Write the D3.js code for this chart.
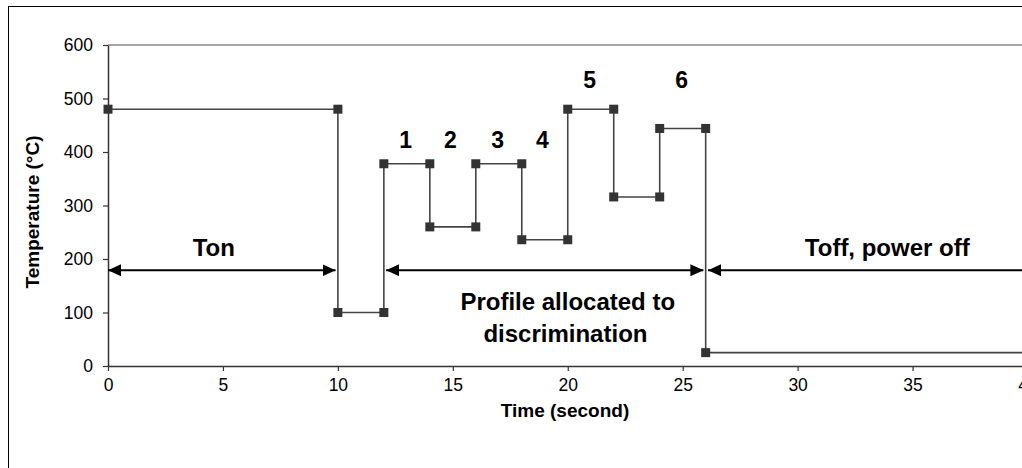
<!DOCTYPE html>
<html>
<head>
<meta charset="utf-8">
<script src="https://cdn.jsdelivr.net/npm/d3@7"></script>
<style>
  body { margin: 0; background: #fff; }
  text { font-family: "Liberation Sans", Arial, sans-serif; }
</style>
</head>
<body>
<div id="chart"></div>
<script>
// step profile
var times = [0, 10, 10, 12, 12, 14, 14, 16, 16, 18, 18, 20, 20, 22, 22, 24, 24, 26, 26, 40];
var temps = [480, 480, 100, 100, 378, 378, 260, 260, 378, 378, 236, 236, 480, 480, 316, 316, 444, 444, 25, 25];

var xTicks = [0, 5, 10, 15, 20, 25, 30, 35, 40];
var yTicks = [0, 100, 200, 300, 400, 500, 600];

// phase arrows: [from, to, temperature]
var arrows = [[0, 9.9, 179], [12.1, 25.9, 179], [26.1, 42, 179]];

// step numbers above the profile
var stepLabels = ["1", "2", "3", "4", "5", "6"];
var stepX = [12.95, 14.9, 16.95, 18.9, 20.95, 24.95];
var stepY = [407, 407, 407, 407, 520, 520];

var W = 1022, H = 468;
var svg = d3.select("#chart").append("svg").attr("width", W).attr("height", H);

var x = d3.scaleLinear().domain([0, 40]).range([108, 1027.5]);
var y = d3.scaleLinear().domain([0, 600]).range([366, 45]);

// outer frame (runs off the right and bottom)
svg.append("rect").attr("x", 8.5).attr("y", 6.5).attr("width", 1100).attr("height", 600)
  .attr("fill", "none").attr("stroke", "#000").attr("stroke-width", 1);

// plot area top edge
svg.append("line").attr("x1", x(0)).attr("x2", W).attr("y1", y(600)).attr("y2", y(600))
  .attr("stroke", "#888").attr("stroke-width", 1.5);

var xAxis = svg.append("g").attr("transform", "translate(0," + y(0) + ")")
  .call(d3.axisBottom(x).tickValues(xTicks).tickSize(5).tickSizeOuter(0).tickPadding(8));
var yAxis = svg.append("g").attr("transform", "translate(" + x(0) + ",0)")
  .call(d3.axisLeft(y).tickValues(yTicks).tickSize(5).tickSizeOuter(0).tickPadding(10));
[xAxis, yAxis].forEach(function (a) {
  a.select(".domain").attr("stroke", "#333").attr("stroke-width", 1.5);
  a.selectAll(".tick line").attr("stroke", "#333").attr("stroke-width", 1.2);
  a.selectAll(".tick text").attr("font-size", 17.5).attr("fill", "#000")
    .style("font-family", "'Liberation Sans', Arial, sans-serif");
});

svg.append("text").attr("x", 565).attr("y", 417).attr("text-anchor", "middle")
  .attr("font-size", 19).attr("font-weight", "bold").text("Time (second)");
svg.append("text").attr("transform", "translate(39,212) rotate(-90)").attr("text-anchor", "middle")
  .attr("font-size", 19).attr("font-weight", "bold").text("Temperature (°C)");

var pts = times.map(function (t, i) { return [t, temps[i]]; });
svg.append("path").datum(pts)
  .attr("d", d3.line().x(function (d) { return x(d[0]); }).y(function (d) { return y(d[1]); }))
  .attr("fill", "none").attr("stroke", "#444").attr("stroke-width", 1.6);
svg.selectAll("rect.mk").data(pts).enter().append("rect").attr("class", "mk")
  .attr("x", function (d) { return x(d[0]) - 4.5; })
  .attr("y", function (d) { return y(d[1]) - 4.5; })
  .attr("width", 9).attr("height", 9).attr("fill", "#333");

// arrows
svg.append("defs").append("marker").attr("id", "head")
  .attr("viewBox", "0 0 13 12").attr("refX", 13).attr("refY", 6)
  .attr("markerWidth", 13).attr("markerHeight", 12).attr("markerUnits", "userSpaceOnUse")
  .attr("orient", "auto-start-reverse")
  .append("path").attr("d", "M0,0 L13,6 L0,12 Z").attr("fill", "#000");
svg.selectAll("line.arr").data(arrows).enter().append("line").attr("class", "arr")
  .attr("x1", function (d) { return x(d[0]); }).attr("x2", function (d) { return x(d[1]); })
  .attr("y1", function (d) { return y(d[2]); }).attr("y2", function (d) { return y(d[2]); })
  .attr("stroke", "#000").attr("stroke-width", 2)
  .attr("marker-start", "url(#head)").attr("marker-end", "url(#head)");

var notes = [["Ton", 4.6, 206], ["Toff, power off", 33.9, 206], ["Profile allocated to", 20.0, 104], ["discrimination", 19.9, 45]];
svg.selectAll("text.note").data(notes).enter().append("text").attr("class", "note")
  .attr("x", function (d) { return x(d[1]); }).attr("y", function (d) { return y(d[2]); })
  .attr("text-anchor", "middle").attr("font-size", 24).attr("font-weight", "bold").text(function (d) { return d[0]; });

svg.selectAll("text.step").data(stepLabels).enter().append("text").attr("class", "step")
  .attr("x", function (d, i) { return x(stepX[i]); }).attr("y", function (d, i) { return y(stepY[i]); })
  .attr("text-anchor", "middle").attr("font-size", 23).attr("font-weight", "bold").text(function (d) { return d; });
</script>
</body>
</html>
